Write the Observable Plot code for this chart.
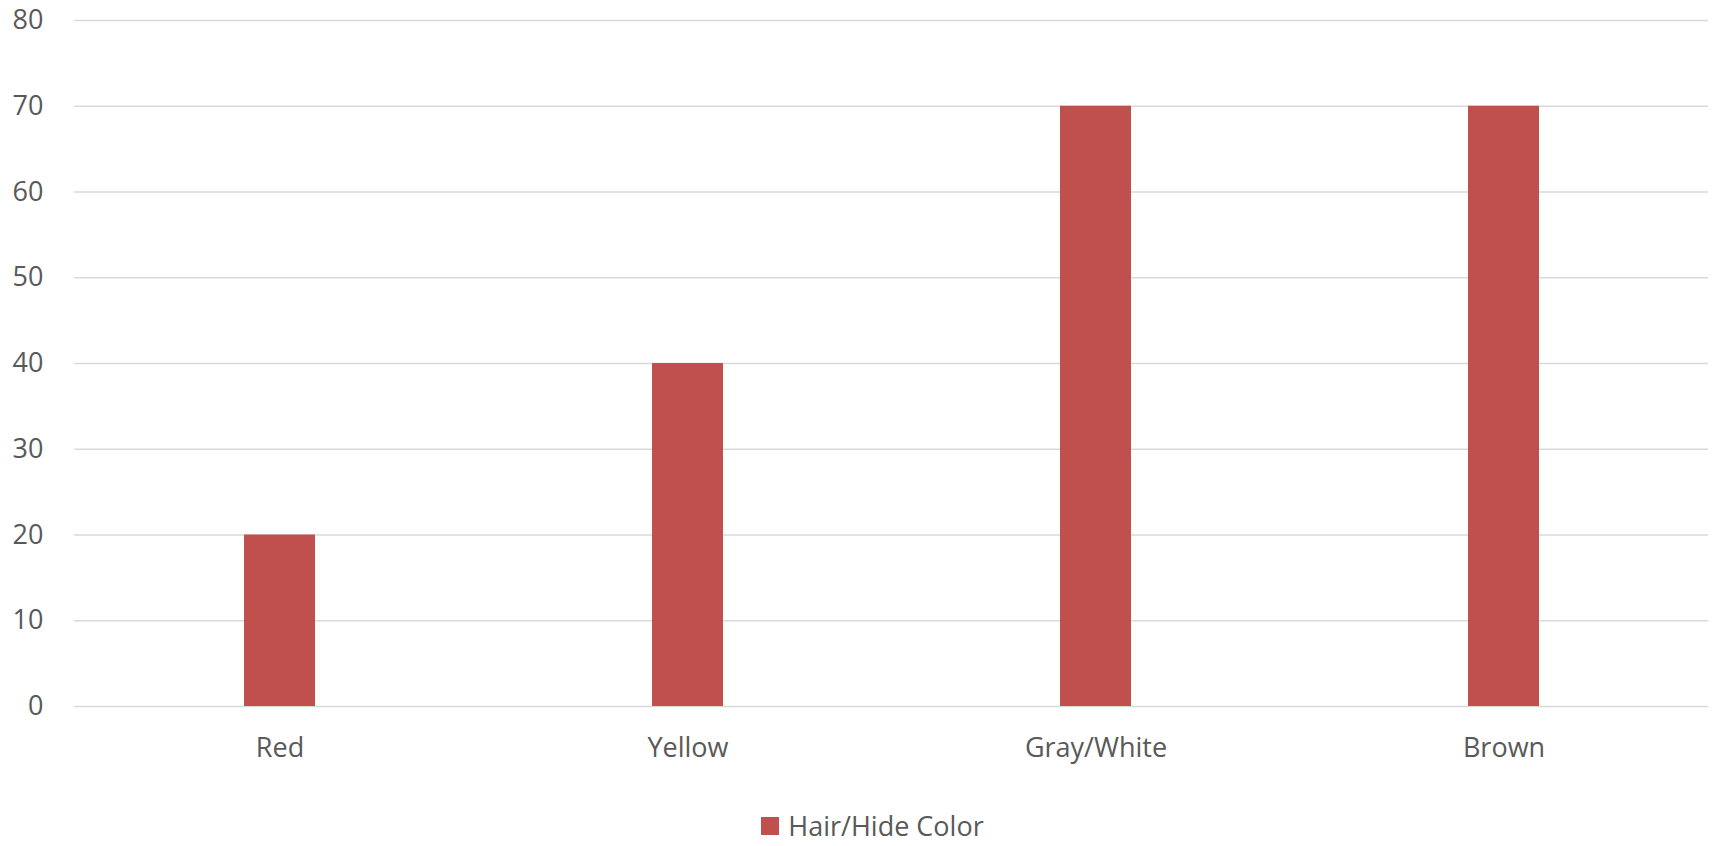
<!DOCTYPE html>
<html>
<head>
<meta charset="utf-8">
<script src="https://cdn.jsdelivr.net/npm/d3@7"></script>
<script src="https://cdn.jsdelivr.net/npm/@observablehq/plot@0.6"></script>
<style>
  html, body { margin: 0; padding: 0; background: #fff; }
  body { width: 1715px; height: 846px; overflow: hidden; font-family: "Open Sans", sans-serif; }
  #legend { height: 56px; display: flex; justify-content: center; align-items: flex-start; padding-left: 30px; box-sizing: border-box; }
  #legend .item { display: flex; align-items: center; font-size: 27px; color: #595959; margin-top: 22px; line-height: 27px; }
  #legend .sw { width: 18px; height: 18px; background: #C0504D; margin-right: 9px; }
</style>
</head>
<body>
<div id="chart"></div>
<div id="legend"><div class="item"><div class="sw"></div><span>Hair/Hide Color</span></div></div>
<script>
const categories = ["Red", "Yellow", "Gray/White", "Brown"];
const values = [20, 40, 70, 70];
const yTicks = [0, 10, 20, 30, 40, 50, 60, 70, 80];
const seriesName = "Hair/Hide Color";

const data = categories.map((c, i) => ({category: c, value: values[i]}));

const chart = Plot.plot({
  width: 1715,
  height: 790,
  marginTop: 20,
  marginBottom: 84,
  marginLeft: 74,
  marginRight: 7,
  style: {fontFamily: "Open Sans, sans-serif", fontSize: "27px", color: "#595959", background: "#fff"},
  x: {domain: categories, paddingInner: 0.826, paddingOuter: 0.413, label: null, tickSize: 0, tickPadding: 31},
  y: {domain: [0, 80], ticks: yTicks, label: null, tickSize: 0, tickPadding: 31},
  marks: [
    Plot.ruleY(yTicks, {stroke: "#d9d9d9", strokeWidth: 1.4}),
    Plot.barY(data, {x: "category", y: "value", fill: "#C0504D"}),
    Plot.axisX({tickSize: 0, tickPadding: 31, fill: "#595959", fontSize: 27}),
    Plot.axisY({ticks: yTicks, tickSize: 0, tickPadding: 31, fill: "#595959", fontSize: 27})
  ]
});
document.getElementById("chart").appendChild(chart);
</script>
</body>
</html>
